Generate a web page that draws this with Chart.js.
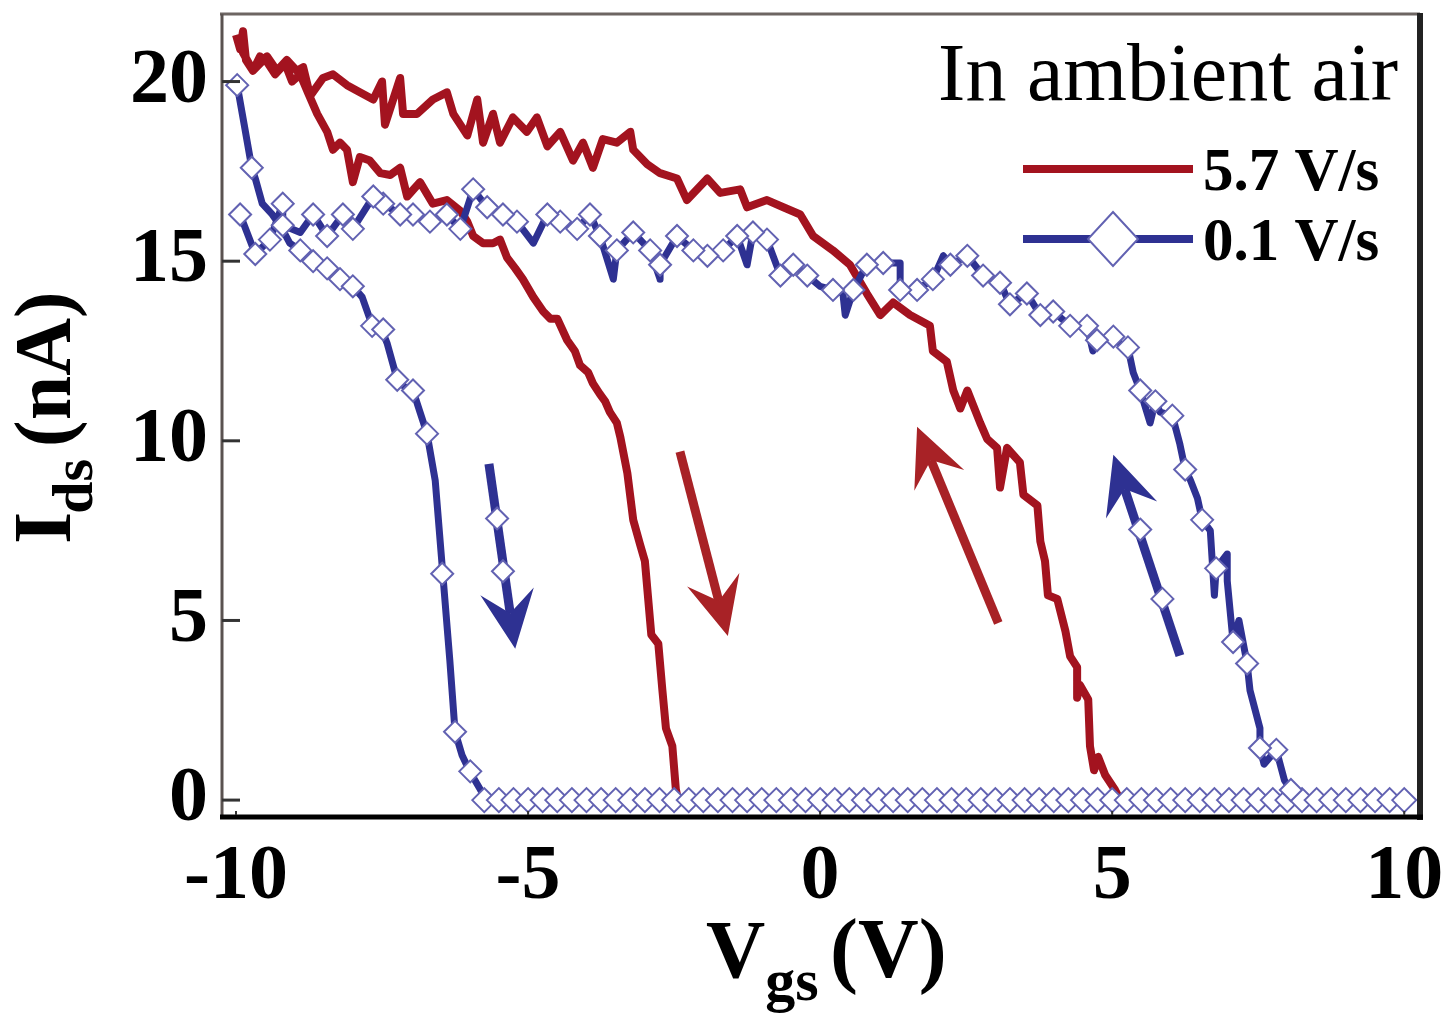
<!DOCTYPE html>
<html>
<head>
<meta charset="utf-8">
<title>Ids vs Vgs</title>
<script src="https://cdn.jsdelivr.net/npm/chart.js@4.4.1/dist/chart.umd.min.js"></script>
<style>
  html, body { margin: 0; padding: 0; background: #fff; }
  canvas { display: block; }
</style>
</head>
<body>
<canvas id="myChart" width="1446" height="1021"></canvas>
<script>
const xTicks = [-10, -5, 0, 5, 10];
const yTicks = [0, 5, 10, 15, 20];

// 5.7 V/s : sweep -10 -> 10 (left branch going down, then off)
const redDownX = [-10.0, -9.93, -9.88, -9.83, -9.71, -9.59, -9.47, -9.33, -9.16, -9.04, -8.90, -8.77, -8.61, -8.44, -8.34, -8.22, -8.10, -8.00, -7.88, -7.71, -7.53, -7.36, -7.19, -7.07, -6.85, -6.63, -6.39, -6.16, -6.04, -5.94, -5.77, -5.60, -5.48, -5.36, -5.22, -5.09, -4.91, -4.74, -4.62, -4.50, -4.33, -4.20, -4.11, -3.97, -3.89, -3.77, -3.68, -3.60, -3.48, -3.42, -3.36, -3.30, -3.20, -3.08, -3.00, -2.89, -2.77, -2.70, -2.64, -2.53, -2.47, -2.43, 10.0];
const redDownY = [21.3, 20.9, 21.4, 20.6, 20.3, 20.7, 20.55, 20.2, 20.5, 20.0, 20.2, 19.7, 19.1, 18.6, 18.1, 18.3, 18.1, 17.2, 17.9, 17.8, 17.45, 17.4, 17.6, 16.8, 17.2, 16.6, 16.7, 16.4, 16.1, 15.7, 15.5, 15.5, 15.6, 15.1, 14.8, 14.5, 14.0, 13.6, 13.4, 13.4, 12.8, 12.5, 12.1, 11.9, 11.6, 11.3, 11.1, 10.8, 10.5, 10.1, 9.6, 9.1, 7.8, 7.1, 6.65, 4.6, 4.35, 3.05, 2.0, 1.5, 0.3, 0, 0];

// 5.7 V/s : sweep 10 -> -10 (right branch going up, then top branch)
const redUpX = [5.14, 5.05, 4.88, 4.76, 4.69, 4.62, 4.59, 4.45, 4.40, 4.40, 4.28, 4.20, 4.06, 3.90, 3.85, 3.77, 3.72, 3.48, 3.42, 3.20, 3.08, 3.03, 2.86, 2.74, 2.52, 2.40, 2.28, 2.17, 1.93, 1.88, 1.54, 1.25, 1.03, 0.80, 0.51, 0.22, -0.12, -0.34, -0.63, -0.91, -1.25, -1.37, -1.71, -1.93, -2.28, -2.45, -2.74, -2.96, -3.20, -3.25, -3.48, -3.72, -3.89, -4.06, -4.23, -4.45, -4.67, -4.85, -5.02, -5.26, -5.48, -5.60, -5.77, -5.87, -6.04, -6.28, -6.39, -6.63, -6.90, -7.14, -7.19, -7.45, -7.50, -7.65, -7.88, -8.10, -8.34, -8.51, -8.73, -8.85, -8.96, -9.13, -9.30, -9.47, -9.71, -9.88, -9.97];
const redUpY = [0, 0.28, 0.7, 1.2, 0.83, 1.5, 2.8, 3.2, 2.85, 3.7, 4.0, 4.7, 5.6, 5.7, 6.65, 7.2, 8.2, 8.5, 9.4, 9.8, 8.7, 9.8, 10.05, 10.5, 11.4, 10.9, 11.4, 12.2, 12.5, 13.2, 13.5, 13.85, 13.5, 14.1, 14.9, 15.3, 15.7, 16.3, 16.5, 16.7, 16.5, 17.0, 16.9, 17.3, 16.7, 17.3, 17.45, 17.7, 18.1, 18.6, 18.3, 18.4, 17.6, 18.3, 17.8, 18.6, 18.2, 19.0, 18.6, 19.0, 18.3, 19.1, 18.3, 19.5, 18.5, 19.1, 19.7, 19.5, 19.1, 19.1, 20.1, 18.8, 20.0, 19.5, 19.7, 19.9, 20.2, 20.1, 19.6, 20.4, 20.3, 20.6, 20.3, 20.7, 20.3, 20.8, 21.2];

// 0.1 V/s : sweep -10 -> 10
const blueDownX = [-9.98, -9.86, -9.73, -9.67, -9.55, -9.38, -9.21, -9.08, -8.90, -8.68, -8.44, -8.22, -8.00, -7.84, -7.71, -7.53, -7.41, -7.24, -7.11, -6.97, -6.85, -6.73, -6.59, -6.46, -6.34, -6.25, -6.13, -6.00, -5.82, -5.70, 10.0];
const blueDownY = [19.9, 18.8, 17.6, 17.3, 16.6, 16.3, 15.9, 15.5, 15.3, 15.0, 14.8, 14.5, 14.3, 14.0, 13.4, 13.2, 12.7, 11.7, 11.5, 11.4, 10.8, 10.2, 8.9, 6.3, 3.9, 1.9, 1.25, 0.8, 0.3, 0, 0];

// 0.1 V/s : sweep 10 -> -10
const blueUpX = [8.20, 8.06, 7.95, 7.81, 7.60, 7.53, 7.53, 7.36, 7.31, 7.17, 7.07, 6.97, 6.97, 6.78, 6.75, 6.68, 6.54, 6.46, 6.34, 6.25, 6.16, 6.03, 5.82, 5.74, 5.65, 5.48, 5.36, 5.27, 5.14, 5.02, 4.74, 4.67, 4.57, 4.28, 3.99, 3.77, 3.54, 3.25, 3.08, 2.79, 2.52, 2.23, 2.11, 1.93, 1.66, 1.37, 1.37, 1.08, 0.80, 0.57, 0.43, 0.39, 0.22, 0.0, -0.22, -0.46, -0.68, -0.91, -1.15, -1.25, -1.42, -1.66, -1.93, -2.17, -2.45, -2.74, -2.74, -2.91, -3.20, -3.48, -3.54, -3.77, -3.94, -4.16, -4.45, -4.67, -4.91, -5.19, -5.43, -5.70, -5.94, -6.16, -6.39, -6.68, -6.97, -7.19, -7.48, -7.65, -8.00, -8.17, -8.44, -8.68, -8.90, -9.20, -9.20, -9.42, -9.67, -9.93];
const blueUpY = [0, 0.28, 0.55, 1.4, 1.0, 1.45, 2.0, 3.05, 3.8, 5.0, 4.4, 6.1, 6.85, 6.45, 5.7, 7.5, 7.8, 8.4, 8.9, 9.2, 9.9, 10.7, 10.8, 11.1, 10.5, 11.4, 11.9, 12.6, 12.7, 12.9, 12.8, 12.5, 13.2, 13.2, 13.6, 13.5, 14.1, 13.8, 14.4, 14.6, 15.15, 14.9, 15.15, 14.5, 14.2, 14.2, 14.95, 14.95, 14.9, 14.2, 13.5, 14.1, 14.2, 14.3, 14.6, 14.9, 14.6, 15.6, 15.8, 14.9, 15.7, 15.3, 15.15, 15.3, 15.7, 14.9, 14.5, 15.3, 15.8, 15.3, 14.5, 15.7, 16.3, 15.9, 16.1, 16.3, 15.5, 16.1, 16.3, 16.5, 17.0, 15.9, 16.3, 16.1, 16.3, 16.3, 16.6, 16.8, 15.9, 16.3, 15.7, 16.3, 15.8, 16.0, 16.6, 15.6, 15.2, 16.3];

// diamond markers of the 0.1 V/s curve
const blueDownMarkX = [-9.98, -9.73, -8.90, -8.68, -8.44, -8.22, -8.00, -7.67, -7.48, -7.24, -6.97, -6.73, -6.47, -6.25, -5.99];
const blueDownMarkY = [19.9, 17.6, 15.3, 15.0, 14.8, 14.5, 14.3, 13.2, 13.1, 11.7, 11.4, 10.2, 6.3, 1.9, 0.8];
const blueUpMarkX = [8.06, 7.81, 7.53, 7.31, 7.07, 6.78, 6.54, 6.25, 6.03, 5.74, 5.48, 5.27, 5.02, 4.74, 4.57, 4.28, 3.99, 3.77, 3.54, 3.25, 3.08, 2.79, 2.52, 2.23, 1.93, 1.66, 1.37, 1.08, 0.80, 0.57, 0.22, -0.22, -0.46, -0.68, -0.91, -1.15, -1.42, -1.66, -1.93, -2.17, -2.45, -2.74, -2.91, -3.20, -3.48, -3.77, -3.94, -4.16, -4.45, -4.67, -5.19, -5.43, -5.70, -5.94, -6.16, -6.39, -6.68, -6.97, -7.19, -7.48, -7.65, -8.00, -8.17, -8.44, -8.68, -9.20, -9.20, -9.42, -9.67, -9.93];
const blueUpMarkY = [0.28, 1.4, 1.45, 3.8, 4.4, 6.45, 7.8, 9.2, 10.7, 11.1, 11.4, 12.6, 12.9, 12.8, 13.2, 13.2, 13.6, 13.5, 14.1, 13.8, 14.4, 14.6, 15.15, 14.9, 14.5, 14.2, 14.2, 14.95, 14.9, 14.2, 14.2, 14.6, 14.9, 14.6, 15.6, 15.8, 15.7, 15.3, 15.15, 15.3, 15.7, 14.9, 15.3, 15.8, 15.3, 15.7, 16.3, 15.9, 16.1, 16.3, 16.1, 16.3, 16.5, 17.0, 15.9, 16.3, 16.1, 16.3, 16.3, 16.6, 16.8, 15.9, 16.3, 15.7, 16.3, 16.0, 16.6, 15.6, 15.2, 16.3];
const zeroMarkX = [-5.75, -5.5, -5.25, -5, -4.75, -4.5, -4.25, -4, -3.75, -3.5, -3.25, -3, -2.75, -2.5, -2.25, -2, -1.75, -1.5, -1.25, -1, -0.75, -0.5, -0.25, 0, 0.25, 0.5, 0.75, 1, 1.25, 1.5, 1.75, 2, 2.25, 2.5, 2.75, 3, 3.25, 3.5, 3.75, 4, 4.25, 4.5, 4.75, 5, 5.25, 5.5, 5.75, 6, 6.25, 6.5, 6.75, 7, 7.25, 7.5, 7.75, 8, 8.25, 8.5, 8.75, 9, 9.25, 9.5, 9.75, 10];
const zeroMarkY = [0, 0, 0, 0, 0, 0, 0, 0, 0, 0, 0, 0, 0, 0, 0, 0, 0, 0, 0, 0, 0, 0, 0, 0, 0, 0, 0, 0, 0, 0, 0, 0, 0, 0, 0, 0, 0, 0, 0, 0, 0, 0, 0, 0, 0, 0, 0, 0, 0, 0, 0, 0, 0, 0, 0, 0, 0, 0, 0, 0, 0, 0, 0, 0];

// sweep direction arrows (data units)
const redArrowTailX = [-2.40, 3.05];
const redArrowTailY = [9.70, 4.93];
const redArrowTipX = [-1.58, 1.66];
const redArrowTipY = [4.57, 10.39];
const blueArrowTailX = [-5.67, 6.16];
const blueArrowTailY = [9.36, 4.02];
const blueArrowTipX = [-5.22, 5.02];
const blueArrowTipY = [4.21, 9.61];
const blueArrowMarkX = [-5.53, -5.43, 5.86, 5.48];
const blueArrowMarkY = [7.84, 6.37, 5.60, 7.53];

const RED = '#a3131f';
const RED_ARROW = '#a82226';
const BLUE = '#2e3192';
const DIAMOND = '#6262b2';
const SERIF = "'Liberation Serif', 'Times New Roman', serif";

const toPts = (xs, ys) => xs.map((v, i) => ({ x: v, y: ys[i] }));

function diamond(ctx, cx, cy, hw, hh, lw) {
  ctx.beginPath();
  ctx.moveTo(cx, cy - hh);
  ctx.lineTo(cx + hw, cy);
  ctx.lineTo(cx, cy + hh);
  ctx.lineTo(cx - hw, cy);
  ctx.closePath();
  ctx.fillStyle = '#fff';
  ctx.fill();
  ctx.strokeStyle = DIAMOND;
  ctx.lineWidth = lw;
  ctx.stroke();
}

function arrow(ctx, fx, fy, tx, ty, color, w) {
  const ang = Math.atan2(ty - fy, tx - fx);
  const c = Math.cos(ang), s = Math.sin(ang);
  const L = 58, W = 27;
  const bx = tx - L * c, by = ty - L * s;
  const nx = tx - L * 0.62 * c, ny = ty - L * 0.62 * s;
  ctx.strokeStyle = color;
  ctx.fillStyle = color;
  ctx.lineWidth = w;
  ctx.lineCap = 'butt';
  ctx.beginPath();
  ctx.moveTo(fx, fy);
  ctx.lineTo(nx, ny);
  ctx.stroke();
  ctx.beginPath();
  ctx.moveTo(tx, ty);
  ctx.lineTo(bx - s * W, by + c * W);
  ctx.lineTo(nx, ny);
  ctx.lineTo(bx + s * W, by - c * W);
  ctx.closePath();
  ctx.fill();
}

const decor = {
  id: 'decor',
  afterDatasetsDraw(chart) {
    const { ctx, chartArea: a, scales: { x, y } } = chart;
    ctx.save();
    redArrowTailX.forEach((v, i) => {
      arrow(ctx, x.getPixelForValue(v), y.getPixelForValue(redArrowTailY[i]),
        x.getPixelForValue(redArrowTipX[i]), y.getPixelForValue(redArrowTipY[i]), RED_ARROW, 9);
    });
    blueArrowTailX.forEach((v, i) => {
      arrow(ctx, x.getPixelForValue(v), y.getPixelForValue(blueArrowTailY[i]),
        x.getPixelForValue(blueArrowTipX[i]), y.getPixelForValue(blueArrowTipY[i]), BLUE, 9);
    });
    blueArrowMarkX.forEach((v, i) => {
      diamond(ctx, x.getPixelForValue(v), y.getPixelForValue(blueArrowMarkY[i]), 11, 11, 2);
    });

    // frame
    ctx.lineCap = 'butt';
    ctx.strokeStyle = '#6d6562';
    ctx.lineWidth = 3;
    ctx.beginPath(); ctx.moveTo(a.left - 2, a.top); ctx.lineTo(a.right, a.top); ctx.stroke();
    ctx.strokeStyle = '#5a5250';
    ctx.beginPath(); ctx.moveTo(a.left, a.top); ctx.lineTo(a.left, a.bottom + 3); ctx.stroke();
    ctx.strokeStyle = '#222';
    ctx.lineWidth = 6;
    ctx.beginPath(); ctx.moveTo(a.right, a.top - 1); ctx.lineTo(a.right, a.bottom + 5); ctx.stroke();
    ctx.strokeStyle = '#000';
    ctx.lineWidth = 5;
    ctx.beginPath(); ctx.moveTo(a.left - 2, a.bottom + 2); ctx.lineTo(a.right + 3, a.bottom + 2); ctx.stroke();

    // inside ticks
    ctx.strokeStyle = '#333';
    ctx.lineWidth = 3;
    yTicks.forEach(v => {
      const py = y.getPixelForValue(v);
      ctx.beginPath(); ctx.moveTo(a.left, py); ctx.lineTo(a.left + 18, py); ctx.stroke();
    });
    ctx.lineWidth = 2;
    xTicks.forEach(v => {
      const px = x.getPixelForValue(v);
      ctx.beginPath(); ctx.moveTo(px, a.bottom); ctx.lineTo(px, a.bottom - 4); ctx.stroke();
    });
    ctx.restore();
  },
  afterDraw(chart) {
    const ctx = chart.ctx;
    ctx.save();
    ctx.fillStyle = '#000';
    ctx.textAlign = 'left';
    ctx.textBaseline = 'alphabetic';

    // y title: I_ds (nA)
    ctx.save();
    ctx.translate(70, 544);
    ctx.rotate(-Math.PI / 2);
    ctx.font = 'bold 83px ' + SERIF;
    ctx.fillText('I', 0, 0);
    const wI = ctx.measureText('I').width;
    ctx.font = 'bold 58px ' + SERIF;
    ctx.fillText('ds', wI - 2, 22);
    ctx.font = 'bold 80px ' + SERIF;
    ctx.fillText('(nA)', 97, 0);
    ctx.restore();

    // x title: V_gs (V)
    ctx.font = 'bold 82px ' + SERIF;
    ctx.fillText('V', 706, 977);
    const wV = ctx.measureText('V').width;
    ctx.font = 'bold 60px ' + SERIF;
    ctx.fillText('gs', 706 + wV, 1000);
    ctx.font = 'bold 84px ' + SERIF;
    ctx.fillText('(V)', 830, 977);

    // legend block
    ctx.textAlign = 'right';
    ctx.font = '82px ' + SERIF;
    ctx.fillText('In ambient air', 1398, 100);

    ctx.lineCap = 'butt';
    ctx.strokeStyle = RED;
    ctx.lineWidth = 8;
    ctx.beginPath(); ctx.moveTo(1023, 169); ctx.lineTo(1193, 169); ctx.stroke();
    ctx.strokeStyle = BLUE;
    ctx.beginPath(); ctx.moveTo(1023, 239); ctx.lineTo(1193, 239); ctx.stroke();
    diamond(ctx, 1113, 239, 25, 27, 2);

    ctx.fillStyle = '#000';
    ctx.textAlign = 'left';
    ctx.font = 'bold 61px ' + SERIF;
    ctx.fillText('5.7 V/s', 1203, 190);
    ctx.fillText('0.1 V/s', 1203, 260);
    ctx.restore();
  }
};

const config = {
  type: 'scatter',
  data: {
    datasets: [
      {
        label: '0.1 V/s markers',
        data: toPts(blueDownMarkX.concat(blueUpMarkX), blueDownMarkY.concat(blueUpMarkY)),
        showLine: false,
        pointStyle: 'rectRot',
        pointRadius: 11,
        pointBackgroundColor: '#fff',
        pointBorderColor: DIAMOND,
        pointBorderWidth: 2,
        order: 1
      },
      {
        label: '0.1 V/s off-state markers',
        data: toPts(zeroMarkX, zeroMarkY),
        showLine: false,
        pointStyle: 'rectRot',
        pointRadius: 12,
        pointBackgroundColor: '#fff',
        pointBorderColor: DIAMOND,
        pointBorderWidth: 2,
        order: 2
      },
      {
        label: '0.1 V/s',
        data: toPts(blueDownX.concat(blueUpX), blueDownY.concat(blueUpY)),
        showLine: true,
        borderColor: BLUE,
        borderWidth: 7,
        borderJoinStyle: 'round',
        pointRadius: 0,
        tension: 0,
        order: 3
      },
      {
        label: '5.7 V/s',
        data: toPts(redDownX.concat(redUpX), redDownY.concat(redUpY)),
        showLine: true,
        borderColor: RED,
        borderWidth: 8,
        borderJoinStyle: 'round',
        pointRadius: 0,
        tension: 0,
        order: 4
      }
    ]
  },
  options: {
    responsive: false,
    animation: false,
    layout: { padding: { top: 10, right: 26, left: 0, bottom: 0 } },
    plugins: { legend: { display: false }, tooltip: { enabled: false } },
    scales: {
      x: {
        type: 'linear',
        min: -10.24,
        max: 10.27,
        afterBuildTicks: scale => { scale.ticks = xTicks.map(v => ({ value: v })); },
        afterFit: scale => {
          scale.height = 206;
          scale.paddingLeft = 0;
          scale.paddingRight = 0;
        },
        grid: { display: false, drawTicks: false },
        border: { display: false },
        ticks: {
          color: '#000',
          padding: 16,
          maxRotation: 0,
          font: { family: SERIF, size: 78, weight: 'bold' },
          callback: v => String(v)
        }
      },
      y: {
        type: 'linear',
        min: -0.415,
        max: 21.88,
        afterBuildTicks: scale => { scale.ticks = yTicks.map(v => ({ value: v })); },
        afterFit: scale => {
          scale.width = 222;
          scale.paddingTop = 0;
          scale.paddingBottom = 0;
        },
        grid: { display: false, drawTicks: false },
        border: { display: false },
        ticks: {
          color: '#000',
          padding: 14,
          font: { family: SERIF, size: 78, weight: 'bold' },
          callback: v => String(v)
        }
      }
    }
  },
  plugins: [decor]
};

const myChart = document.getElementById('myChart');
const chartInstance = new Chart(myChart, config);
</script>
</body>
</html>
